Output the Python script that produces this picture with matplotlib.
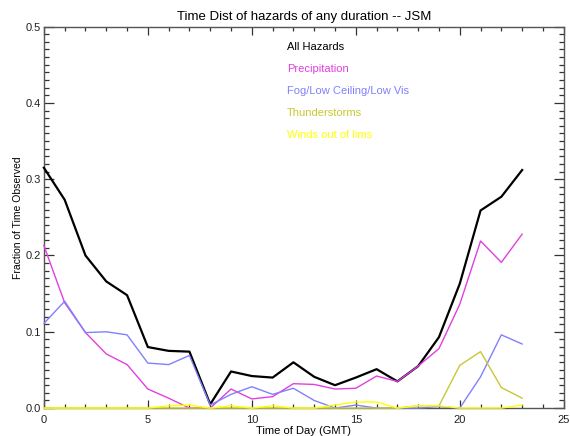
import matplotlib
matplotlib.use("Agg")
import matplotlib.pyplot as plt
from matplotlib.ticker import MultipleLocator

# hourly fraction of time observed, hours 0..23 GMT
hours = list(range(24))
all_hazards = [0.315, 0.273, 0.200, 0.166, 0.148, 0.080, 0.075, 0.074, 0.005, 0.048,
               0.042, 0.040, 0.060, 0.041, 0.030, 0.040, 0.051, 0.035, 0.055, 0.093,
               0.163, 0.259, 0.277, 0.312]
precip = [0.213, 0.138, 0.099, 0.071, 0.057, 0.025, 0.013, 0.000, 0.000, 0.025,
          0.012, 0.015, 0.032, 0.031, 0.025, 0.026, 0.042, 0.035, 0.055, 0.078,
          0.136, 0.219, 0.191, 0.228]
fog = [0.111, 0.140, 0.099, 0.100, 0.096, 0.059, 0.057, 0.069, 0.004, 0.018,
       0.028, 0.018, 0.026, 0.010, 0.000, 0.004, 0.000, 0.000, 0.000, 0.002,
       0.000, 0.041, 0.096, 0.084]
tstorms = [0.0] * 18 + [0.003, 0.003, 0.056, 0.074, 0.027, 0.013]
winds = [0.000, 0.000, 0.000, 0.000, 0.000, 0.000, 0.003, 0.004, 0.000, 0.003,
         0.000, 0.003, 0.000, 0.000, 0.004, 0.008, 0.008, 0.000, 0.003, 0.003,
         0.000, 0.000, 0.000, 0.004]

labels = ["All Hazards", "Precipitation", "Fog/Low Ceiling/Low Vis",
          "Thunderstorms", "Winds out of lims"]
colors = ["black", "#e040e0", "#8080ff", "#c8c832", "#ffff00"]

plt.rcParams["font.family"] = ["Liberation Sans", "DejaVu Sans"]

fig = plt.figure(figsize=(5.70, 4.36), dpi=100)
ax = fig.add_axes([0.077, 0.064, 0.912, 0.875])

series = [all_hazards, precip, fog, tstorms, winds]
for vals, col in zip(series, colors):
    lw = 1.6 if col == "black" else 1.0
    ax.plot(hours, vals, color=col, lw=lw, clip_on=False, zorder=3)

ax.set_xlim(0, 25)
ax.set_ylim(0, 0.5)
ax.xaxis.set_major_locator(MultipleLocator(5))
ax.xaxis.set_minor_locator(MultipleLocator(1))
ax.yaxis.set_major_locator(MultipleLocator(0.1))
ax.yaxis.set_minor_locator(MultipleLocator(0.01))
ax.yaxis.set_major_formatter(plt.FuncFormatter(lambda v, p: f"{v:.1f}"))
ax.tick_params(axis="both", which="both", direction="in", top=True, right=True,
               color="#333333", labelsize=8, labelcolor="#222222", width=0.9)
ax.tick_params(axis="x", which="major", length=6, pad=5)
ax.tick_params(axis="x", which="minor", length=3)
ax.tick_params(axis="y", which="major", length=7, pad=2)
ax.tick_params(axis="y", which="minor", length=3.5)
for s in ax.spines.values():
    s.set_color("#555555")
    s.set_linewidth(1.0)

ax.set_title("Time Dist of hazards of any duration -- JSM", fontsize=9.5, pad=5)
ax.set_xlabel("Time of Day (GMT)", fontsize=8, labelpad=1)
ax.set_ylabel("Fraction of Time Observed", fontsize=7.5, labelpad=2)

for i, (lab, col) in enumerate(zip(labels, colors)):
    ax.text(0.467, 0.946 - i * 0.0577, lab, color=col, fontsize=8,
            transform=ax.transAxes, va="center", ha="left")

fig.savefig("out.png", dpi=100)
